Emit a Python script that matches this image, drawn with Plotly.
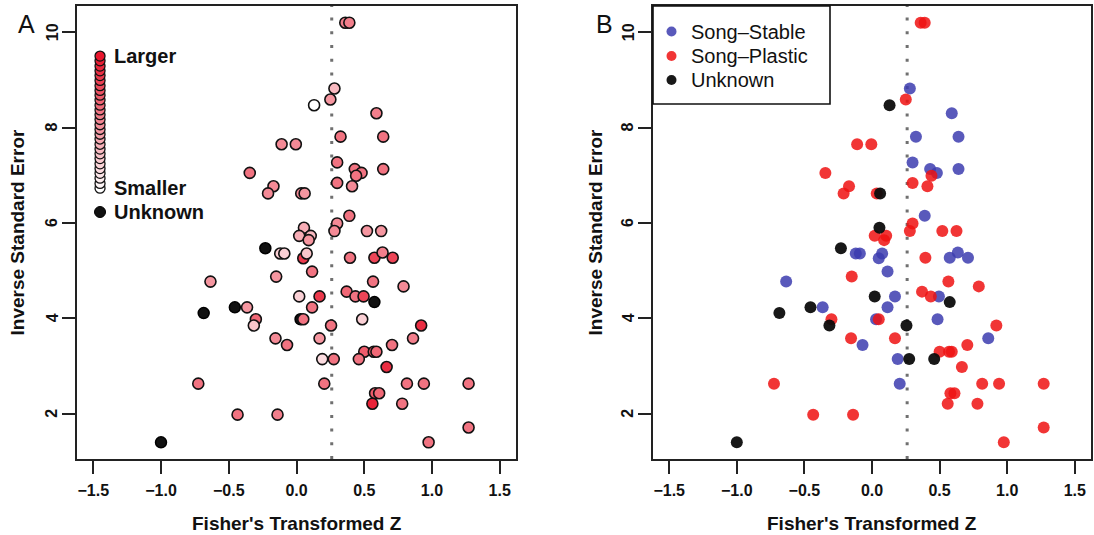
import plotly.graph_objects as go

# ---------------- data ----------------
fisher_z = [0.36, 0.39, 0.28, 0.25, 0.13, 0.59, 0.325, 0.64, -0.11, -0.005,
            -0.345, 0.30, 0.43, 0.48, 0.44, 0.64, 0.30, 0.41, -0.17, -0.21,
            0.035, 0.06, 0.39, 0.30, 0.28, 0.52, 0.625, 0.055, 0.02, 0.105,
            0.09, -0.23, -0.12, -0.09, 0.05, 0.075, 0.395, 0.575, 0.635, 0.71,
            0.115, -0.635, -0.15, 0.565, 0.79, 0.37, 0.435, 0.495, 0.575, 0.02,
            0.17, 0.115, -0.365, -0.455, -0.685, -0.30, -0.315, 0.03, 0.05, 0.255,
            0.485, 0.92, -0.155, 0.17, -0.07, 0.86, 0.705, 0.50, 0.57, 0.59,
            0.19, 0.275, 0.46, 0.665, -0.725, 0.205, 0.815, 0.94, 1.27, 0.58,
            0.61, 0.56, 0.78, -0.435, -0.14, 1.27, -1.0, 0.975]
inv_se = [10.2, 10.2, 8.82, 8.59, 8.47, 8.30, 7.81, 7.81, 7.65, 7.65,
          7.05, 7.27, 7.13, 7.05, 6.99, 7.13, 6.84, 6.77, 6.77, 6.62,
          6.62, 6.62, 6.15, 5.99, 5.83, 5.83, 5.83, 5.90, 5.73, 5.73,
          5.64, 5.47, 5.36, 5.36, 5.26, 5.36, 5.27, 5.27, 5.38, 5.27,
          4.98, 4.77, 4.875, 4.77, 4.67, 4.56, 4.46, 4.46, 4.34, 4.46,
          4.46, 4.23, 4.23, 4.23, 4.11, 3.98, 3.85, 3.98, 3.98, 3.85,
          3.98, 3.85, 3.58, 3.58, 3.44, 3.58, 3.44, 3.30, 3.30, 3.30,
          3.145, 3.145, 3.145, 2.98, 2.63, 2.63, 2.63, 2.63, 2.63, 2.43,
          2.43, 2.21, 2.21, 1.98, 1.98, 1.71, 1.40, 1.40]
# relative sample size (0 = smaller, 1 = larger); None = unknown
size_level = [0.55, 0.55, 0.3, 0.45, 0.0, 0.55, 0.6, 0.6, 0.5, 0.5,
              0.6, 0.6, 0.6, 0.6, 0.6, 0.6, 0.6, 0.5, 0.5, 0.5,
              0.5, 0.45, 0.6, 0.5, 0.5, 0.45, 0.45, 0.35, 0.35, 0.3,
              0.45, None, 0.2, 0.2, 0.85, 0.25, 0.6, 0.8, 0.55, 0.8,
              0.6, 0.45, 0.45, 0.6, 0.5, 0.65, 0.6, 0.8, None, 0.2,
              0.85, 0.6, 0.45, None, None, 0.65, 0.25, None, 0.6, 0.6,
              0.2, 0.9, 0.5, 0.45, 0.6, 0.55, 0.6, 0.7, 0.7, 0.65,
              0.15, 0.6, 0.6, 0.9, 0.6, 0.6, 0.6, 0.6, 0.6, 0.7,
              0.65, 0.95, 0.6, 0.6, 0.55, 0.6, None, 0.6]
song_type = ['P', 'P', 'S', 'P', 'U', 'S', 'S', 'S', 'P', 'P',
             'P', 'S', 'S', 'S', 'P', 'S', 'P', 'P', 'P', 'P',
             'P', 'U', 'S', 'P', 'P', 'P', 'P', 'U', 'P', 'P',
             'P', 'U', 'S', 'S', 'S', 'S', 'P', 'S', 'S', 'S',
             'S', 'S', 'P', 'P', 'P', 'P', 'P', 'S', 'U', 'U',
             'S', 'S', 'S', 'U', 'U', 'P', 'U', 'S', 'P', 'U',
             'S', 'P', 'P', 'P', 'S', 'S', 'P', 'P', 'P', 'P',
             'S', 'U', 'U', 'P', 'P', 'S', 'P', 'P', 'P', 'P',
             'P', 'P', 'P', 'P', 'P', 'P', 'U', 'P']
mean_z = 0.26

x_ticks = [-1.5, -1.0, -0.5, 0.0, 0.5, 1.0, 1.5]
x_tick_text = ["\u22121.5", "\u22121.0", "\u22120.5", "0.0", "0.5", "1.0", "1.5"]
y_ticks = [2, 4, 6, 8, 10]

# size-gradient key in panel A
key_z = -1.45
key_se = [6.73, 6.83, 6.94, 7.04, 7.14, 7.24, 7.35, 7.45, 7.55, 7.65, 7.76, 7.86, 7.96, 8.06,
          8.17, 8.27, 8.37, 8.47, 8.58, 8.68, 8.78, 8.88, 8.99, 9.09, 9.19, 9.29, 9.40, 9.50]
key_unknown_se = 6.23

group_names = {'S': 'Song\u2013Stable', 'P': 'Song\u2013Plastic', 'U': 'Unknown'}
group_colors = {'S': 'rgba(60,60,175,0.85)', 'P': 'rgba(238,18,18,0.85)', 'U': 'rgba(12,12,12,0.95)'}

# ---------------- helpers ----------------
W, H = 1094, 535
RED_END = (232, 22, 45)


def shade_color(t):
    r = round(255 + (RED_END[0] - 255) * t)
    g = round(255 + (RED_END[1] - 255) * t)
    b = round(255 + (RED_END[2] - 255) * t)
    return f"rgb({r},{g},{b})"


FONT = "Liberation Sans, Arial, Helvetica, sans-serif"

fig = go.Figure()

# ---------------- panel A ----------------
unk_x = [z for z, s in zip(fisher_z, size_level) if s is None]
unk_y = [y for y, s in zip(inv_se, size_level) if s is None]
kn_x = [z for z, s in zip(fisher_z, size_level) if s is not None]
kn_y = [y for y, s in zip(inv_se, size_level) if s is not None]
kn_c = [shade_color(s) for s in size_level if s is not None]

fig.add_trace(go.Scatter(x=unk_x, y=unk_y, mode="markers", xaxis="x", yaxis="y",
                         marker=dict(size=11, color="#111111", line=dict(color="#000", width=1.5)),
                         showlegend=False, hoverinfo="skip"))
fig.add_trace(go.Scatter(x=kn_x, y=kn_y, mode="markers", xaxis="x", yaxis="y",
                         marker=dict(size=11, color=kn_c, line=dict(color="#111", width=1.6)),
                         showlegend=False, hoverinfo="skip"))
# gradient key
n_key = len(key_se)
fig.add_trace(go.Scatter(x=[key_z] * n_key, y=key_se, mode="markers", xaxis="x", yaxis="y",
                         marker=dict(size=10, color=[shade_color(i / (n_key - 1)) for i in range(n_key)],
                                     line=dict(color="#111", width=1.3)),
                         showlegend=False, hoverinfo="skip"))
fig.add_trace(go.Scatter(x=[key_z], y=[key_unknown_se], mode="markers", xaxis="x", yaxis="y",
                         marker=dict(size=11, color="#111111", line=dict(color="#000", width=1)),
                         showlegend=False, hoverinfo="skip"))

# ---------------- panel B ----------------
for g in ['S', 'P', 'U']:
    gx = [z for z, s in zip(fisher_z, song_type) if s == g]
    gy = [y for y, s in zip(inv_se, song_type) if s == g]
    fig.add_trace(go.Scatter(x=gx, y=gy, mode="markers", xaxis="x2", yaxis="y2",
                             marker=dict(size=12, color=group_colors[g], line=dict(width=0)),
                             name=group_names[g], showlegend=False, hoverinfo="skip"))

# ---------------- axes ----------------
ydom = [1 - 459 / H, 1 - 6 / H]
tick_font = dict(family=FONT, size=16, color="#111", weight="bold")
common_x = dict(range=[-1.62, 1.62], tickvals=x_ticks, ticktext=x_tick_text,
                ticks="outside", ticklen=13, tickwidth=1.5, tickcolor="#222",
                showline=True, mirror=True, linecolor="#222", linewidth=2,
                showgrid=False, zeroline=False, ticklabelstandoff=3,
                tickfont=tick_font)
common_y = dict(range=[1.05, 10.55], tickvals=y_ticks, domain=ydom,
                ticks="outside", ticklen=13, tickwidth=1.5, tickcolor="#222",
                showline=True, mirror=True, linecolor="#222", linewidth=2,
                showgrid=False, zeroline=False, showticklabels=False)

fig.update_layout(
    width=W, height=H,
    margin=dict(l=0, r=0, t=0, b=0),
    paper_bgcolor="white", plot_bgcolor="white",
    xaxis=dict(domain=[77 / W, 516 / W], anchor="y", **common_x),
    yaxis=dict(anchor="x", **common_y),
    xaxis2=dict(domain=[653 / W, 1091 / W], anchor="y2", **common_x),
    yaxis2=dict(anchor="x2", **common_y),
    showlegend=False,
)

# reference lines
for xr, yr in [("x", "y domain"), ("x2", "y2 domain")]:
    fig.add_shape(type="line", xref=xr, yref=yr, x0=mean_z, x1=mean_z, y0=0, y1=1,
                  line=dict(color="#707070", width=3, dash="3px,10.7px"), layer="below")

ann = []
# rotated y tick labels (R style, parallel to the axis)
for yref, xpix in [("y", 52), ("y2", 628)]:
    for v in y_ticks:
        ann.append(dict(text=str(v), xref="paper", yref=yref, x=xpix / W, y=v,
                        xanchor="center", yanchor="middle", textangle=-90, showarrow=False,
                        font=tick_font))

title_font = dict(family=FONT, size=19, color="#111", weight="bold")
for xd, yd, xpix_ytitle in [("x domain", "y domain", 17), ("x2 domain", "y2 domain", 595)]:
    ann.append(dict(text="Fisher's Transformed Z", xref=xd, yref="paper", x=0.5, y=1 - 523 / H,
                    xanchor="center", yanchor="middle", showarrow=False, font=title_font))
    ann.append(dict(text="Inverse Standard Error", xref="paper", yref=yd, x=xpix_ytitle / W, y=0.5,
                    xanchor="center", yanchor="middle", textangle=-90, showarrow=False, font=title_font))

# panel letters
ann.append(dict(text="A", xref="paper", yref="paper", x=26 / W, y=1 - 24 / H, showarrow=False,
                xanchor="center", yanchor="middle", font=dict(family=FONT, size=25, color="#111")))
ann.append(dict(text="B", xref="paper", yref="paper", x=604 / W, y=1 - 24 / H, showarrow=False,
                xanchor="center", yanchor="middle", font=dict(family=FONT, size=25, color="#111")))

# panel A key labels
key_font = dict(family=FONT, size=20, color="#111", weight="bold")
ann.append(dict(text="Larger", xref="x", yref="y", x=-1.36, y=key_se[-1], xanchor="left",
                yanchor="middle", showarrow=False, font=key_font))
ann.append(dict(text="Smaller", xref="x", yref="y", x=-1.36, y=key_se[0], xanchor="left",
                yanchor="middle", showarrow=False, font=key_font))
ann.append(dict(text="Unknown", xref="x", yref="y", x=-1.36, y=key_unknown_se, xanchor="left",
                yanchor="middle", showarrow=False, font=key_font))

# panel B legend (drawn box)
fig.add_shape(type="rect", xref="paper", yref="paper", x0=653 / W, x1=830 / W,
              y0=1 - 104 / H, y1=1 - 6 / H, line=dict(color="#111", width=1.6),
              fillcolor="white", layer="above")
leg_rows = [31.5, 56, 80]
for g, ypix in zip(['S', 'P', 'U'], leg_rows):
    fig.add_shape(type="circle", xref="paper", yref="paper", xsizemode="pixel", ysizemode="pixel",
                  xanchor=671.5 / W, yanchor=1 - ypix / H, x0=-5, x1=5, y0=-5, y1=5,
                  fillcolor=group_colors[g], line=dict(width=0), layer="above")
    ann.append(dict(text=group_names[g], xref="paper", yref="paper", x=689 / W, y=1 - ypix / H,
                    xanchor="left", yanchor="middle", showarrow=False,
                    font=dict(family=FONT, size=20, color="#111")))

fig.update_layout(annotations=ann)
fig.write_html("out.html")
